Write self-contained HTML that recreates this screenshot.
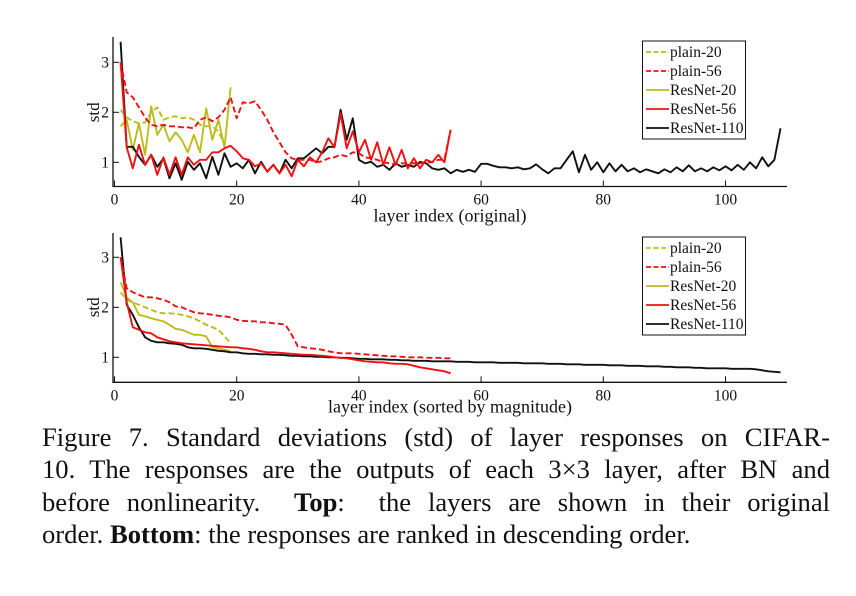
<!DOCTYPE html>
<html><head><meta charset="utf-8"><style>
body{margin:0;background:#fff;width:856px;height:596px;overflow:hidden;font-family:"Liberation Serif",serif}
svg{position:absolute;left:0;top:0}
.cap{position:absolute;left:42px;width:788px;font-size:26.6px;line-height:32.3px;color:#111;text-align:justify;text-align-last:justify;white-space:nowrap}
</style></head><body>
<svg id="chart" width="856" height="420" font-family="Liberation Serif, serif"></svg>
<div class="cap" style="top:421px">Figure 7. Standard deviations (std) of layer responses on CIFAR-</div>
<div class="cap" style="top:453px">10. The responses are the outputs of each 3×3 layer, after BN and</div>
<div class="cap" style="top:486px">before nonlinearity. &nbsp;<b>Top</b>: &nbsp;the layers are shown in their original</div>
<div class="cap" style="top:518px;text-align-last:left">order. <b>Bottom</b>: the responses are ranked in descending order.</div>
<script>
const seriesNames=["plain-20","plain-56","ResNet-20","ResNet-56","ResNet-110"];
const xTicks=[0,20,40,60,80,100];
const yTicks=[1,2,3];
const topPlain20=[2.05,1.9,1.82,1.78,1.8,2.0,2.1,1.85,1.9,1.92,1.88,1.9,1.85,1.75,1.72,1.72,1.62,1.35];
const topPlain56=[3.0,2.4,2.3,2.1,1.9,1.75,1.72,1.75,1.72,1.72,1.7,1.7,1.68,1.85,1.9,1.82,1.9,2.05,2.3,1.88,2.2,2.18,2.22,2.05,1.85,1.6,1.4,1.2,1.08,1.05,1.05,1.05,1.0,1.02,1.08,1.1,1.15,1.12,1.2,1.18,1.1,1.08,1.05,1.0,0.98,0.96,0.98,0.98,0.98,0.98,1.0,1.0,1.05,1.05,1.65];
const topRes20=[1.72,1.85,1.25,1.78,1.15,2.12,1.55,1.75,1.42,1.6,1.45,1.2,1.55,1.2,2.08,1.45,1.85,1.3,2.5];
const topRes56=[3.0,1.3,0.88,1.35,0.95,1.15,0.75,1.1,0.75,1.1,0.75,1.1,0.95,1.05,1.05,1.2,1.2,1.28,1.33,1.22,1.08,1.05,0.92,0.98,0.82,0.95,0.78,0.95,0.72,1.05,0.92,1.1,1.0,1.2,1.48,1.3,1.98,1.28,1.62,1.2,1.45,1.05,1.4,0.95,1.3,0.95,1.25,0.88,1.08,0.88,1.05,1.0,1.15,1.0,1.65];
const topRes110=[3.41,1.31,1.31,1.11,0.95,1.15,0.91,1.08,0.68,0.98,0.65,1.01,0.85,0.98,0.68,1.11,0.75,1.18,0.91,0.98,0.88,1.05,0.78,1.01,0.81,0.95,0.78,1.05,0.88,1.08,1.08,1.18,1.28,1.18,1.31,1.31,2.05,1.45,1.88,1.05,0.98,1.01,0.91,0.95,0.85,0.98,0.91,0.95,0.91,1.01,0.98,0.88,0.85,0.88,0.78,0.85,0.81,0.85,0.81,0.97,0.97,0.93,0.9,0.9,0.88,0.9,0.86,0.88,0.96,0.86,0.78,0.88,0.88,1.05,1.22,0.8,1.15,0.85,1.0,0.8,0.98,0.82,0.95,0.82,0.88,0.8,0.86,0.82,0.78,0.86,0.8,0.9,0.82,0.94,0.82,0.88,0.82,0.9,0.84,0.92,0.84,0.95,0.85,1.0,0.88,1.1,0.92,1.05,1.68];
const botPlain20=[2.3,2.15,2.1,2.05,2.0,1.95,1.9,1.88,1.88,1.87,1.85,1.82,1.78,1.72,1.65,1.6,1.55,1.42,1.28];
const botPlain56=[3.0,2.38,2.3,2.25,2.2,2.2,2.18,2.15,2.1,2.02,2.0,1.95,1.9,1.88,1.87,1.85,1.83,1.82,1.8,1.75,1.73,1.72,1.72,1.7,1.7,1.68,1.67,1.65,1.45,1.22,1.2,1.18,1.17,1.15,1.12,1.1,1.08,1.08,1.08,1.07,1.06,1.05,1.04,1.03,1.02,1.02,1.01,1.0,1.0,1.0,0.99,0.99,0.99,0.98,0.98];
const botRes20=[2.5,2.2,2.1,1.85,1.82,1.78,1.75,1.72,1.65,1.57,1.55,1.5,1.45,1.45,1.42,1.2,1.18,1.15,1.12];
const botRes56=[3.0,2.1,1.6,1.55,1.5,1.48,1.4,1.36,1.32,1.3,1.28,1.27,1.26,1.25,1.24,1.23,1.22,1.21,1.2,1.2,1.18,1.17,1.15,1.12,1.1,1.1,1.09,1.08,1.07,1.06,1.05,1.05,1.04,1.03,1.02,1.0,0.99,0.98,0.96,0.94,0.92,0.91,0.9,0.9,0.88,0.87,0.87,0.86,0.83,0.8,0.78,0.76,0.74,0.72,0.68];
const botRes110=[3.4,2.05,1.85,1.6,1.4,1.33,1.3,1.3,1.28,1.27,1.25,1.2,1.18,1.18,1.17,1.15,1.13,1.12,1.1,1.1,1.08,1.07,1.07,1.06,1.06,1.05,1.05,1.04,1.03,1.03,1.02,1.02,1.01,1.01,1.0,1.0,0.99,0.99,0.98,0.97,0.97,0.96,0.96,0.96,0.95,0.95,0.94,0.94,0.93,0.93,0.93,0.92,0.92,0.92,0.92,0.91,0.91,0.91,0.9,0.9,0.9,0.9,0.89,0.89,0.89,0.89,0.88,0.88,0.88,0.88,0.87,0.87,0.87,0.86,0.86,0.86,0.85,0.85,0.85,0.85,0.84,0.84,0.84,0.83,0.83,0.83,0.82,0.82,0.82,0.81,0.81,0.8,0.8,0.8,0.79,0.79,0.78,0.78,0.78,0.78,0.77,0.77,0.77,0.77,0.76,0.74,0.72,0.71,0.7];
const NS="http://www.w3.org/2000/svg";
const svg=document.getElementById('chart');
const OL="#bcbc1c",RD="#f01010";
function mk(t,a,p){const e=document.createElementNS(NS,t);for(const k in a)e.setAttribute(k,a[k]);(p||svg).appendChild(e);return e;}
function panel(id,yOne,axisBottom,axisTop,xlabel,sets){
  const g=mk('g',{});
  
  
  const xs=v=>114.5+v*6.11, ys=v=>yOne-(v-1)*50;
  const ax=mk('path',{d:`M113,${axisTop} V${axisBottom} H787`,stroke:'#111','stroke-width':1.3,fill:'none'},g);
  
  
  xTicks.forEach(t=>{const x=xs(t);mk('line',{x1:x,x2:x,y1:axisBottom,y2:axisBottom-6,stroke:'#111'},g);
    const tx=mk('text',{x:x,y:axisBottom+18,'text-anchor':'middle','font-size':15.5,fill:'#111'},g);tx.textContent=t;
    
    });
  yTicks.forEach(t=>{const y=ys(t);mk('line',{x1:113,x2:119,y1:y,y2:y,stroke:'#111'},g);
    const tx=mk('text',{x:109,y:y+5,'text-anchor':'end','font-size':15.5,fill:'#111'},g);tx.textContent=t;
    
    });
  const yl=mk('text',{x:0,y:0,transform:`translate(99,${ys(2)}) rotate(-90)`,'text-anchor':'middle','font-size':17,fill:'#111'},g);yl.textContent='std';
  
  
  const xl=mk('text',{x:450,y:axisBottom+(xlabel.includes('sorted')?30:35),'text-anchor':'middle','font-size':18,fill:'#111'},g);xl.textContent=xlabel;
  
  
  sets.forEach(s=>{const d=s.v.map((v,i)=>(i?'L':'M')+xs(i+1).toFixed(1)+','+ys(v).toFixed(1)).join('');
    const p=mk('path',{d:d,stroke:s.c,'stroke-width':1.9,fill:'none','stroke-dasharray':s.dash?'6,3':'none','stroke-linejoin':'round'},g);
    
    });
  const lt=axisTop+4;
  const lg=mk('g',{},g);
  
  
  mk('rect',{x:642.5,y:lt,width:103,height:98,fill:'#fff',stroke:'#111','stroke-width':1},lg);
  const st=[[OL,1],[RD,1],[OL,0],[RD,0],['#111',0]];
  seriesNames.forEach((n,i)=>{const y=lt+11+i*19;
    mk('line',{x1:646,x2:669,y1:y,y2:y,stroke:st[i][0],'stroke-width':1.8,'stroke-dasharray':st[i][1]?'5,2.5':'none'},lg);
    const t=mk('text',{x:670,y:y+5,'font-size':15.5,fill:'#111'},lg);t.textContent=n;
    
    });
}
panel('top-chart',162.3,186.5,37,'layer index (original)',[
 {n:'plain-20',v:topPlain20,c:OL,dash:1},{n:'ResNet-20',v:topRes20,c:OL},
 {n:'ResNet-110',v:topRes110,c:'#111'},{n:'ResNet-56',v:topRes56,c:RD},{n:'plain-56',v:topPlain56,c:RD,dash:1}]);
panel('bottom-chart',357.3,382.3,233,'layer index (sorted by magnitude)',[
 {n:'plain-20',v:botPlain20,c:OL,dash:1},{n:'ResNet-20',v:botRes20,c:OL},
 {n:'ResNet-110',v:botRes110,c:'#111'},{n:'ResNet-56',v:botRes56,c:RD},{n:'plain-56',v:botPlain56,c:RD,dash:1}]);
</script>
</body></html>
